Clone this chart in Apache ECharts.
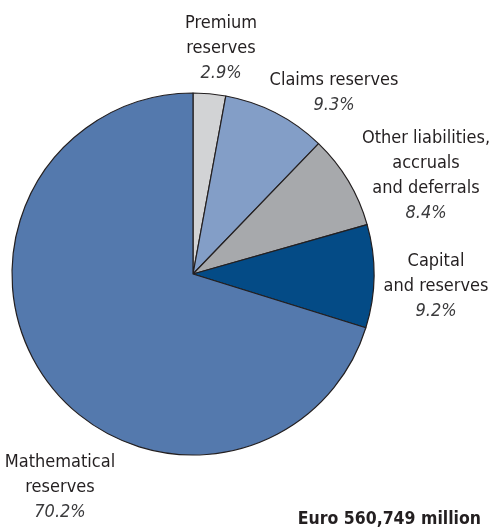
<!DOCTYPE html>
<html>
<head>
<meta charset="utf-8">
<script src="https://cdn.jsdelivr.net/npm/echarts@6/dist/echarts.min.js"></script>
<style>
  html, body { margin: 0; padding: 0; background: #ffffff; }
  #chart { width: 490px; height: 528px; }
</style>
</head>
<body>
<div id="chart"></div>
<script>
// Breakdown of liabilities, clockwise from 12 o'clock
const categories = [
  'Premium\nreserves',
  'Claims reserves',
  'Other liabilities,\naccruals\nand deferrals',
  'Capital\nand reserves',
  'Mathematical\nreserves'
];
const shares = [2.9, 9.3, 8.4, 9.2, 70.2];
const totalLabel = 'Euro 560,749 million';

const sliceColors = ['#d2d3d5', '#839ec7', '#a7a9ac', '#044b86', '#5479ad'];
// label anchor (top-centre of each text block)
const labelAnchors = [
  [221, 11],
  [334, 68],
  [426, 126],
  [436, 249],
  [60, 450]
];

const FONT = '"Liberation Sans Narrow", "DejaVu Sans Condensed", "Roboto Condensed", sans-serif';

const chart = echarts.init(document.getElementById('chart'), null, { renderer: 'canvas' });

chart.setOption({
  animation: false,
  backgroundColor: '#ffffff',
  title: {
    text: totalLabel,
    right: 9,
    top: 510,
    padding: 0,
    textStyle: {
      fontFamily: FONT,
      fontSize: 17.5,
      fontWeight: 'bold',
      color: '#231f20'
    }
  },
  series: [{
    type: 'pie',
    center: [193, 274],
    radius: [0, 181],
    startAngle: 90,
    clockwise: true,
    avoidLabelOverlap: false,
    data: categories.map((name, i) => ({
      name: name,
      value: shares[i],
      itemStyle: { color: sliceColors[i] }
    })),
    itemStyle: { borderColor: '#231f20', borderWidth: 1.2 },
    label: {
      show: true,
      position: 'outside',
      fontFamily: FONT,
      fontSize: 18,
      lineHeight: 25,
      color: '#231f20',
      align: 'center',
      formatter: p => p.name + '\n{pct|' + p.value.toFixed(1) + '%}',
      rich: {
        pct: {
          fontFamily: FONT,
          fontSize: 18,
          lineHeight: 25,
          fontStyle: 'italic',
          color: '#3a3a3c',
          align: 'center'
        }
      }
    },
    labelLine: { show: false },
    labelLayout: p => ({
      x: labelAnchors[p.dataIndex][0],
      y: labelAnchors[p.dataIndex][1],
      align: 'center',
      verticalAlign: 'top'
    }),
    emphasis: { disabled: true }
  }]
});
</script>
</body>
</html>
